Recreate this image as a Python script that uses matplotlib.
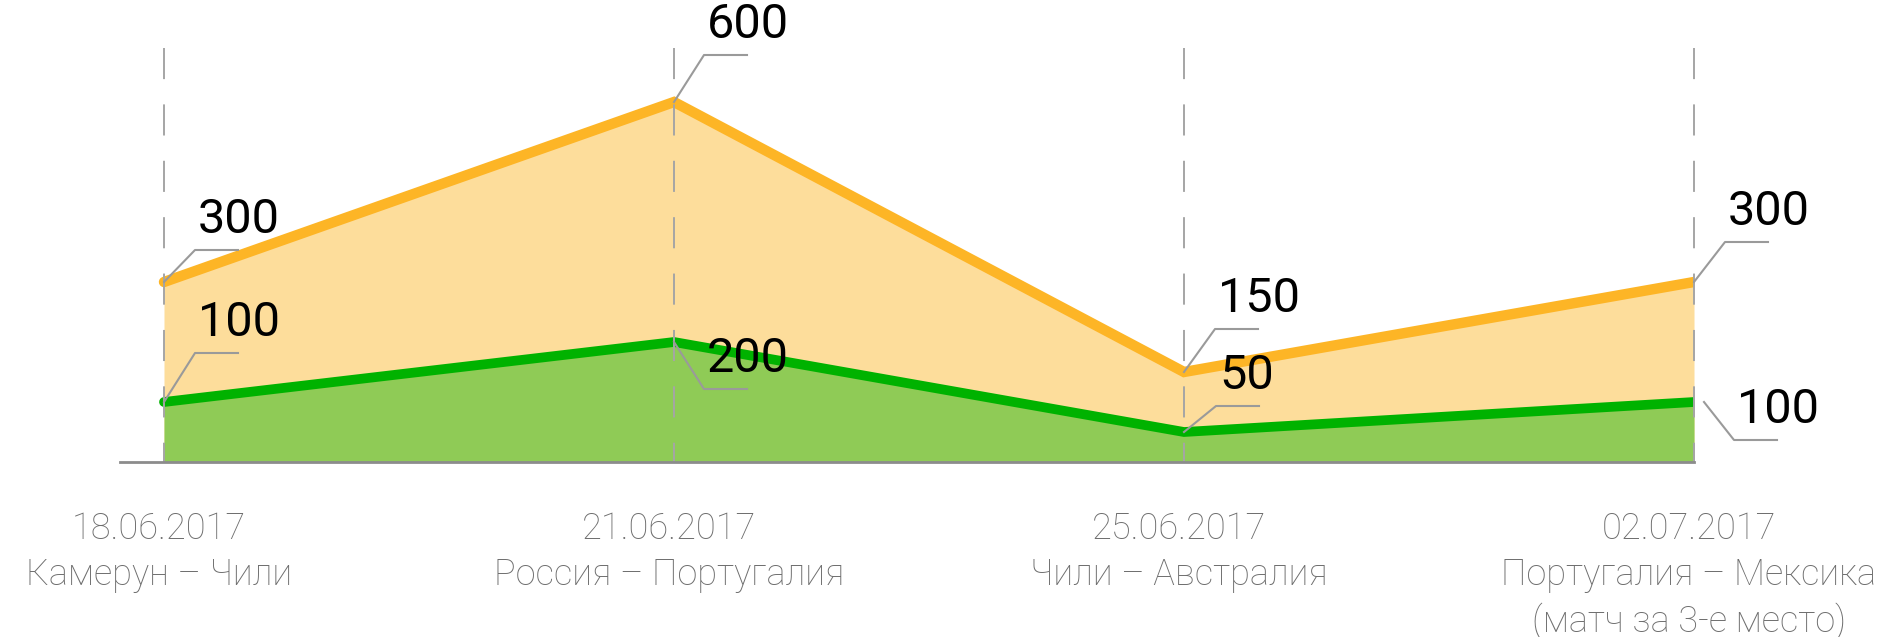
import matplotlib.pyplot as plt
from matplotlib.lines import Line2D
from matplotlib.transforms import IdentityTransform

plt.rcParams['font.family'] = ['Roboto', 'DejaVu Sans']

# data
matches = [0, 1, 2, 3]
dates = ["18.06.2017", "21.06.2017", "25.06.2017", "02.07.2017"]
games = ["Камерун – Чили", "Россия – Португалия", "Чили – Австралия",
         "Португалия – Мексика\n(матч за 3-е место)"]
orange_vals = [300, 600, 150, 300]
green_vals = [100, 200, 50, 100]

# leader line layout: (start dx, start dy, elbow dx, elbow dy) in pixels
orange_leaders = [(0, 0, 31, 32), (0, 0, 30, 47), (0, 0, 31, 43), (0, 0, 31, 40)]
green_leaders = [(0, 0, 31, 49), (0, 0, 30, -47), (0, 0, 32, 26), (10, 0, 40, -38)]

W, H, DPI = 1879, 637, 100
fig = plt.figure(figsize=(W / DPI, H / DPI), dpi=DPI)
left_px, right_px, base_px, top_px = 120, 1694, 462, 48
ax = fig.add_axes([left_px / W, (H - base_px) / H,
                   (right_px - left_px) / W, (base_px - top_px) / H])
ymax = 690
ax.set_xlim(-44 / 510, 3)
ax.set_ylim(0, ymax)
ax.axis("off")

orange_line = "#FDB526"
orange_fill = "#FDDD9B"
green_line = "#00B200"
green_fill = "#8FCB56"
gray = "#9A9A9A"
label_gray = "#6E6E6E"

ax.fill_between(matches, orange_vals, 0, color=orange_fill, lw=0, zorder=1)
ax.fill_between(matches, green_vals, 0, color=green_fill, lw=0, zorder=2)
ax.plot(matches, orange_vals, color=orange_line, lw=7.5, solid_capstyle="round",
        solid_joinstyle="miter", zorder=3)
ax.plot(matches, green_vals, color=green_line, lw=7, solid_capstyle="round",
        solid_joinstyle="miter", zorder=3)

for m in matches:
    ax.plot([m, m], [ymax, 0], color="#A5A5A5", lw=1.4,
            linestyle=(0, (16, 13)), zorder=4, clip_on=False)

ax.plot([-44 / 510, 3], [0, 0], color="#8C8C8C", lw=2, zorder=5, clip_on=False)

fig.canvas.draw()


def leader(x, y, val, lay):
    px, py = ax.transData.transform((x, y))
    sx, sy, ex, ey = lay
    xs = [px + sx, px + ex, px + ex + 43]
    ys = [py + sy, py + ey, py + ey]
    fig.add_artist(Line2D(xs, ys, color=gray, lw=1.5, transform=IdentityTransform(),
                          zorder=6))
    ax.annotate(str(val), xy=(x, y), xytext=(ex + 3, ey + 17),
                textcoords="offset pixels", ha="left", va="baseline",
                fontsize=35, color="black", zorder=7, annotation_clip=False)


for m in matches:
    leader(m, orange_vals[m], orange_vals[m], orange_leaders[m])
    leader(m, green_vals[m], green_vals[m], green_leaders[m])

for m in matches:
    lines = [dates[m]] + games[m].split("\n")
    for i, txt in enumerate(lines):
        ax.annotate(txt, xy=(m, 0), xytext=(-5, -77 - 46 * i),
                    textcoords="offset pixels", ha="center", va="baseline",
                    fontsize=26, color=label_gray, fontweight="light",
                    annotation_clip=False)

fig.savefig("out.png", dpi=DPI)
